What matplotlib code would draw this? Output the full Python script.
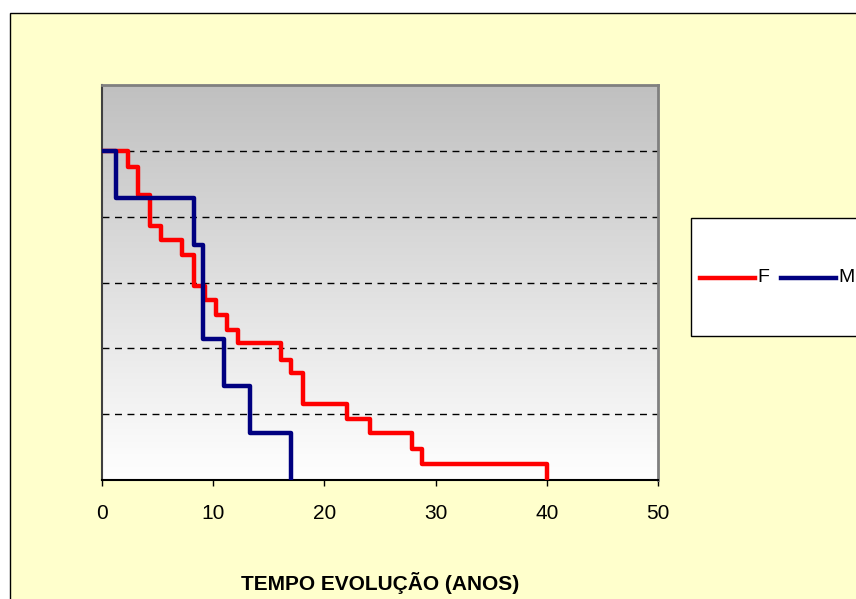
import numpy as np
import matplotlib
matplotlib.use('Agg')
import matplotlib.pyplot as plt
from matplotlib.patches import Rectangle
from matplotlib.lines import Line2D
from matplotlib.colors import LinearSegmentedColormap

plt.rcParams['font.family'] = ['Liberation Sans', 'DejaVu Sans']

# survival curves (time in years, fraction surviving)
f_time = [0, 2.3, 3.25, 4.3, 5.35, 7.15, 8.25, 9.25, 10.25, 11.2, 12.2,
          16.1, 17.0, 18.1, 22.0, 24.1, 27.9, 28.8, 40.0]
f_surv = [1.0, 0.952, 0.865, 0.771, 0.729, 0.685, 0.589, 0.547, 0.501, 0.455, 0.415,
          0.364, 0.324, 0.231, 0.184, 0.142, 0.093, 0.049, 0.0]
m_time = [0, 1.25, 8.25, 9.1, 11.0, 13.3, 17.0]
m_surv = [1.0, 0.857, 0.714, 0.429, 0.286, 0.143, 0.0]

series_names = ['F', 'M']
series_colors = ['#FF0000', '#000080']
x_ticks = [0, 10, 20, 30, 40, 50]
grid_levels = [0.2, 0.4, 0.6, 0.8, 1.0]
x_label = 'TEMPO EVOLUÇÃO (ANOS)'

W, H = 856, 599
fig = plt.figure(figsize=(W / 100, H / 100), dpi=100)
fig.patch.set_facecolor('white')


def px(x, y):
    # pixel position (from top-left) -> figure fraction
    return x / W, 1 - y / H


# chart area (yellow with black border, runs off the right/bottom edge)
x0, y0 = px(10, 13)
fig.patches.append(Rectangle((x0, -0.1), 1.2, y0 + 0.1, transform=fig.transFigure,
                             facecolor='#FFFFCC', edgecolor='black', lw=1, zorder=-5))

ax = fig.add_axes([102 / W, 1 - 480 / H, 556 / W, 395 / H])
ax.set_zorder(1)
ax.set_facecolor('none')

# grey-to-white gradient of the plot area
grad = np.linspace(0, 1, 256).reshape(-1, 1)
cmap = LinearSegmentedColormap.from_list('g', ['#FFFFFF', '#C0C0C0'])
ax.imshow(grad, extent=[0, 1, 0, 1], transform=ax.transAxes, origin='lower',
          aspect='auto', cmap=cmap, zorder=0)

for g in grid_levels:
    ax.axhline(g, color='black', lw=1, dashes=(5, 4), zorder=1)

ax.step(f_time, f_surv, where='post', color=series_colors[0], lw=3.2, zorder=3)
ax.step(m_time, m_surv, where='post', color=series_colors[1], lw=3.2, zorder=4)

ax.set_xlim(0, 50)
ax.set_ylim(0, 1.2)
ax.set_xticks(x_ticks)
ax.set_yticks([])
ax.tick_params(axis='x', direction='out', length=4, width=1, color='black',
               labelsize=15, pad=13)
ax.set_xlabel(x_label, fontsize=15, fontweight='bold')
ax.xaxis.set_label_coords(0.5, -0.233)

for side in ['top', 'right']:
    ax.spines[side].set_color('#808080')
    ax.spines[side].set_linewidth(2)
ax.spines['left'].set_color('#404040')
ax.spines['left'].set_linewidth(1.5)
ax.spines['bottom'].set_color('black')
ax.spines['bottom'].set_linewidth(1.5)

# legend box (cut off by the right edge like the original)
lx, ly = px(691, 336)
fig.patches.append(Rectangle((lx, ly), 200 / W, 118 / H, transform=fig.transFigure,
                             facecolor='white', edgecolor='black', lw=1, zorder=5))
ty = px(0, 278)[1]
for (x_a, x_b, x_t), name, col in zip([(700, 755, 757), (781, 836, 838)],
                                      series_names, series_colors):
    fig.lines.append(Line2D([x_a / W, x_b / W], [ty, ty], transform=fig.transFigure,
                            color=col, lw=3.2, zorder=6))
    fig.text(x_t / W, ty, name, fontsize=14, va='center', ha='left', zorder=7)

fig.savefig('out.png', dpi=100)
